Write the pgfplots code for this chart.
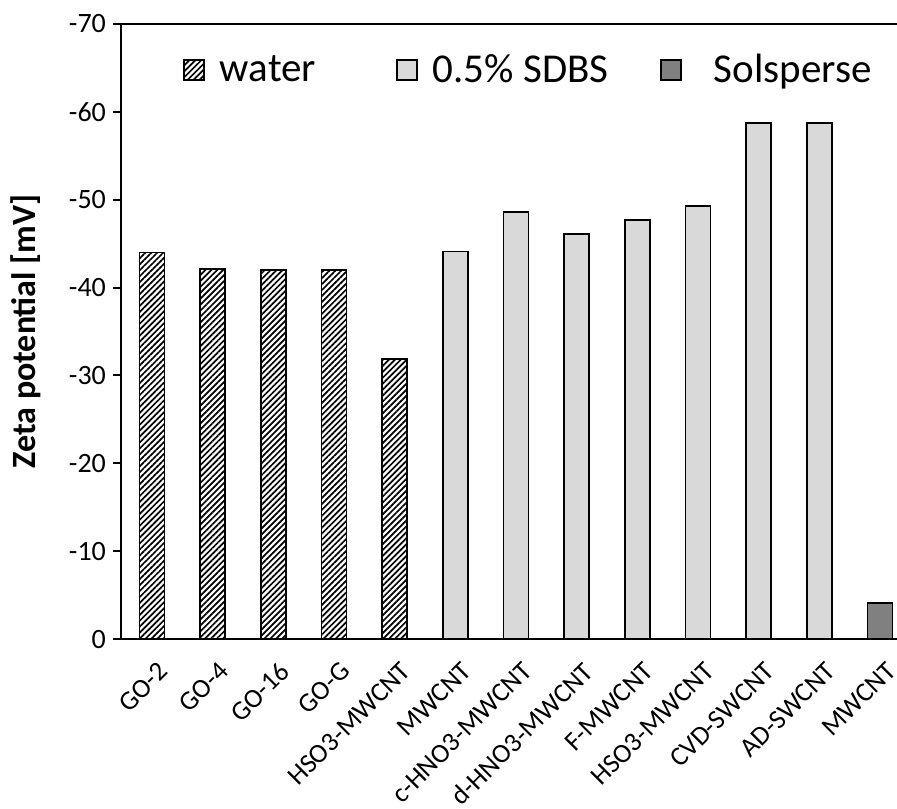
\documentclass[border=0pt]{standalone}
\usepackage{fontspec}
\setmainfont{Carlito}
\usepackage{pgfplots}
\pgfplotsset{compat=1.18}
\usetikzlibrary{patterns.meta}
\definecolor{lightbar}{RGB}{217,217,217}
\definecolor{darkbar}{RGB}{128,128,128}
\tikzset{hatch/.style={pattern={Lines[angle=45,distance=2.1pt,line width=0.85pt]}, pattern color=black}}
\begin{document}
\begin{tikzpicture}
\begin{axis}[
  scale only axis,
  width=388pt, height=307.5pt,
  xmin=-0.51, xmax=12.28,
  ymin=-70, ymax=0,
  y dir=reverse,
  axis x line=box, axis y line=left,
  axis line style={-, line width=1pt, black},
  xtick={0,1,2,3,4,5,6,7,8,9,10,11,12},
  xticklabels={GO-2,GO-4,GO-16,GO-G,HSO3-MWCNT,MWCNT,c-HNO3-MWCNT,d-HNO3-MWCNT,F-MWCNT,HSO3-MWCNT,CVD-SWCNT,AD-SWCNT,MWCNT},
  xticklabel style={rotate=45, anchor=north east, yshift=-3pt, xshift=0.5pt, font=\fontsize{13.5}{16}\selectfont},
  xtick style={draw=none},
  xticklabel pos=lower,
  ytick={-70,-60,-50,-40,-30,-20,-10,0},
  yticklabels={-70,-60,-50,-40,-30,-20,-10,0},
  yticklabel style={font=\fontsize{14}{16}\selectfont, xshift=0pt},
  ytick style={line width=1pt, black},
  tick align=outside,
  major tick length=4pt,
  ylabel={Zeta potential [mV]},
  ylabel style={at={(axis description cs:-0.1224,0.5)}, anchor=center, font=\fontsize{17}{20}\selectfont\bfseries},
  legend columns=3,
  legend style={draw=none, fill=none, at={(axis description cs:0.0799,0.925)}, anchor=west, inner sep=0pt,
    font=\fontsize{20.5}{24}\selectfont, nodes={inner sep=0pt},
    /tikz/every odd column/.append style={column sep=7.5pt},
    /tikz/every even column/.append style={column sep=0pt}},
  legend image code/.code={\draw[#1, line width=0.8pt] (0pt,-5pt) rectangle (10pt,5pt);},
  clip=false,
]
\addplot[ybar, bar width=12.5pt, bar shift=0pt, draw=black, line width=0.9pt, hatch] coordinates {(0,-44.0) (1,-42.1) (2,-42.0) (3,-42.0) (4,-31.9)};
\addlegendentry{water\rule{40pt}{0pt}}
\addplot[ybar, bar width=12.5pt, bar shift=0pt, draw=black, line width=0.9pt, fill=lightbar] coordinates {(5,-44.1) (6,-48.6) (7,-46.1) (8,-47.7) (9,-49.3) (10,-58.7) (11,-58.7)};
\addlegendentry{0.5\% SDBS\rule{26pt}{0pt}}
\addplot[ybar, bar width=12.5pt, bar shift=0pt, draw=black, line width=0.9pt, fill=darkbar] coordinates {(12,-4.1)};
\addlegendentry{\rule{8.5pt}{0pt}Solsperse}
\coordinate (sw) at (axis description cs:0,0);
\coordinate (ne) at (axis description cs:1,1);
\end{axis}
\pgfresetboundingbox
\path[use as bounding box] ([xshift=-60.5pt,yshift=-84.5pt]sw) rectangle ([yshift=12pt]ne);
\end{tikzpicture}
\end{document}
